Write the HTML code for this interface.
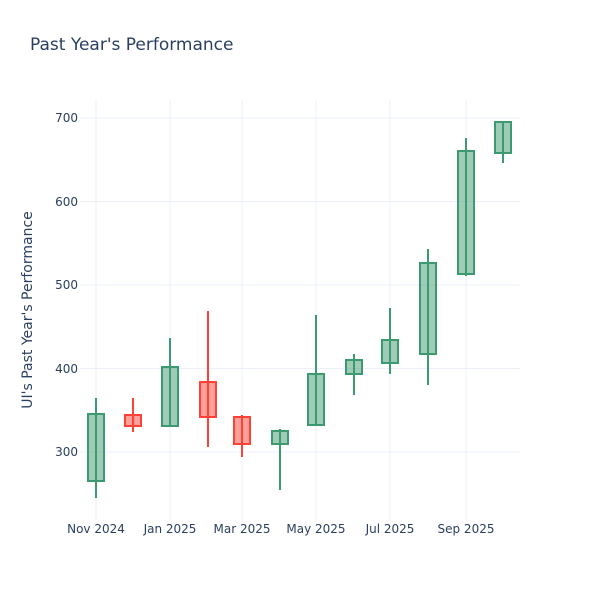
<!DOCTYPE html>
<html><head><style>body{margin:0;background:#fff}svg{font-family:"DejaVu Sans",sans-serif}</style></head><body>
<svg width="600" height="600" xmlns="http://www.w3.org/2000/svg">
<rect width="600" height="600" fill="#fff"/>
<text x="30" y="50" font-size="17" fill="#2a3f5f">Past Year's Performance</text>
<g stroke="#ebf0f8" stroke-width="1">
<line x1="80" x2="520" y1="118" y2="118"/><line x1="80" x2="520" y1="201.5" y2="201.5"/><line x1="80" x2="520" y1="285" y2="285"/><line x1="80" x2="520" y1="368.5" y2="368.5"/><line x1="80" x2="520" y1="452" y2="452"/>
<line x1="96" x2="96" y1="100" y2="520"/><line x1="170" x2="170" y1="100" y2="520"/><line x1="242" x2="242" y1="100" y2="520"/><line x1="316" x2="316" y1="100" y2="520"/><line x1="390" x2="390" y1="100" y2="520"/><line x1="466" x2="466" y1="100" y2="520"/>
</g>
<g font-size="12" fill="#2a3f5f" text-anchor="end">
<text x="78" y="122">700</text><text x="78" y="206">600</text><text x="78" y="289">500</text><text x="78" y="373">400</text><text x="78" y="456">300</text>
</g>
<g font-size="12" fill="#2a3f5f" text-anchor="middle">
<text x="96" y="533">Nov 2024</text><text x="170" y="533">Jan 2025</text><text x="242" y="533">Mar 2025</text><text x="316" y="533">May 2025</text><text x="390" y="533">Jul 2025</text><text x="466" y="533">Sep 2025</text>
</g>
<text transform="translate(32,310) rotate(-90)" font-size="14" fill="#2a3f5f" text-anchor="middle">UI's Past Year's Performance</text>
<g stroke="#3D9970" stroke-width="2" fill="rgba(61,153,112,0.5)">
<line x1="96" x2="96" y1="398" y2="498"/><rect x="88" y="414" width="16" height="67"/>
<line x1="170" x2="170" y1="338" y2="426"/><rect x="162" y="367" width="16" height="59"/>
<line x1="280" x2="280" y1="429" y2="490"/><rect x="272" y="431" width="16" height="13"/>
<line x1="316" x2="316" y1="315" y2="425"/><rect x="308" y="374" width="16" height="51"/>
<line x1="354" x2="354" y1="354" y2="395"/><rect x="346" y="360" width="16" height="14"/>
<line x1="390" x2="390" y1="308" y2="374"/><rect x="382" y="340" width="16" height="23"/>
<line x1="428" x2="428" y1="249" y2="385"/><rect x="420" y="263" width="16" height="91"/>
<line x1="466" x2="466" y1="138" y2="276"/><rect x="458" y="151" width="16" height="123"/>
<line x1="503" x2="503" y1="122" y2="163"/><rect x="495" y="122" width="16" height="31"/>
</g>
<g stroke="#FF4136" stroke-width="2" fill="rgba(255,65,54,0.5)">
<line x1="133" x2="133" y1="398" y2="432"/><rect x="125" y="415" width="16" height="11"/>
<line x1="208" x2="208" y1="311" y2="447"/><rect x="200" y="382" width="16" height="35"/>
<line x1="242" x2="242" y1="415" y2="457"/><rect x="234" y="417" width="16" height="27"/>
</g>
</svg>
</body></html>
